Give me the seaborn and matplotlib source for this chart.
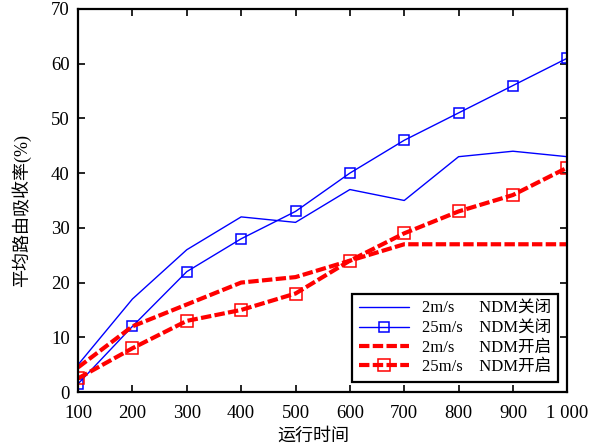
import pandas as pd
import matplotlib.pyplot as plt
import seaborn as sns

run_time = [100, 200, 300, 400, 500, 600, 700, 800, 900, 1000]
closed_2 = [5, 17, 26, 32, 31, 37, 35, 43, 44, 43]
closed_25 = [1.5, 12, 22, 28, 33, 40, 46, 51, 56, 61]
open_2 = [4.5, 12, 16, 20, 21, 24, 27, 27, 27, 27]
open_25 = [2.5, 8, 13, 15, 18, 24, 29, 33, 36, 41]
series_labels = ["2m/s      NDM关闭", "25m/s    NDM关闭", "2m/s      NDM开启", "25m/s    NDM开启"]
x_ticks = [100, 200, 300, 400, 500, 600, 700, 800, 900, 1000]
x_tick_labels = ["100", "200", "300", "400", "500", "600", "700", "800", "900", "1 000"]

sns.set_theme(style="ticks")
plt.rcParams['font.family'] = ['Liberation Serif', 'Noto Sans CJK SC']
plt.rcParams['axes.linewidth'] = 1.6
for k in ["text.color", "axes.labelcolor", "xtick.color", "ytick.color", "axes.edgecolor"]:
    plt.rcParams[k] = "black"

fig = plt.figure(figsize=(6.1, 4.46), dpi=100)
ax = fig.add_axes([0.128, 0.121, 0.802, 0.859])

styles = [
    (closed_2, dict(color="#0000ff", lw=1.0, ls="-")),
    (closed_25, dict(color="#0000ff", lw=1.0, ls="-", marker="s", markersize=7,
                     markerfacecolor="none", markeredgecolor="#0000ff", markeredgewidth=1.1)),
    (open_2, dict(color="#ff0000", lw=3.0, ls=(0, (2.5, 0.8)))),
    (open_25, dict(color="#ff0000", lw=3.0, ls=(0, (2.5, 0.8)), marker="s", markersize=8,
                   markerfacecolor="none", markeredgecolor="#ff0000", markeredgewidth=1.1)),
]
for (vals, kw), lab in zip(styles, series_labels):
    df = pd.DataFrame({"t": run_time, "v": vals})
    sns.lineplot(data=df, x="t", y="v", ax=ax, label=lab, **kw)

ax.set_xlim(100, 1000)
ax.set_ylim(0, 70)
ax.set_xticks(x_ticks)
ax.set_xticklabels(x_tick_labels)
ax.set_yticks(range(0, 71, 10))
ax.tick_params(direction="in", top=True, right=True, length=5, width=1.2, labelsize=13.5, pad=6)
ax.tick_params(axis="x", pad=9)
for s in ax.spines.values():
    s.set_visible(True)
ax.set_xlabel("运行时间", fontsize=13)
ax.set_ylabel("平均路由吸收率(%)", fontsize=13)
ax.xaxis.set_label_coords(0.48, -0.092)
ax.yaxis.set_label_coords(-0.097, 0.475)

leg = ax.legend(loc="lower right", fontsize=12, frameon=True, fancybox=False,
                edgecolor="black", framealpha=1, handlelength=3.0, borderpad=0.4,
                labelspacing=0.2, bbox_to_anchor=(0.998, 0.005))
leg.get_frame().set_linewidth(1.6)

plt.savefig("out.png", dpi=100)
